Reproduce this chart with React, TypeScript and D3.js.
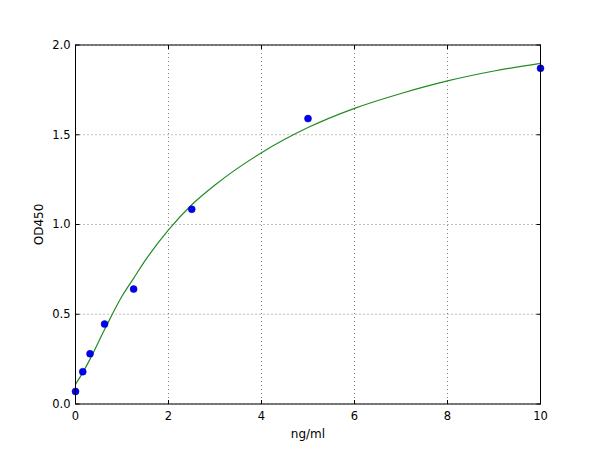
import * as d3 from "d3";

// measured standards (ng/ml vs OD450)
const concentrations = [0, 0.156, 0.3125, 0.625, 1.25, 2.5, 5, 10];
const odValues = [0.07, 0.18, 0.28, 0.445, 0.64, 1.085, 1.59, 1.87];

// fitted curve
const fitX = [0, 0.156, 0.3125, 0.625, 1, 1.25, 1.5, 2, 2.5, 3, 4, 5, 6, 7, 8, 9, 10];
const fitY = [0.11, 0.175, 0.25, 0.415, 0.6, 0.7, 0.8, 0.97, 1.11, 1.22, 1.4, 1.54, 1.647, 1.73, 1.8, 1.855, 1.898];

const xTicks = [0, 2, 4, 6, 8, 10];
const yTicks = [0, 0.5, 1.0, 1.5, 2.0];

const width = 600;
const height = 450;
const margin = { top: 45, right: 59.5, bottom: 46, left: 75.5 };

export default function App() {
  const innerW = width - margin.left - margin.right;
  const innerH = height - margin.top - margin.bottom;

  const x = d3.scaleLinear().domain([0, 10]).range([0, innerW]);
  const y = d3.scaleLinear().domain([0, 2]).range([innerH, 0]);

  const line = d3
    .line<number>()
    .x((d) => x(d))
    .y((_, i) => y(fitY[i]))
    .curve(d3.curveMonotoneX);

  const font = "DejaVu Sans, sans-serif";

  return (
    <svg
      width={width}
      height={height}
      style={{ position: "absolute", left: 0, top: 0, background: "#fff" }}
    >
      <rect width={width} height={height} fill="#fff" />
      <g transform={`translate(${margin.left},${margin.top})`}>
        {/* grid */}
        {xTicks.map((t) => (
          <line
            key={"gx" + t}
            x1={x(t)}
            x2={x(t)}
            y1={0}
            y2={innerH}
            stroke="#000"
            strokeWidth={0.5}
            strokeDasharray="1,3"
          />
        ))}
        {yTicks.map((t) => (
          <line
            key={"gy" + t}
            x1={0}
            x2={innerW}
            y1={y(t)}
            y2={y(t)}
            stroke="#000"
            strokeWidth={0.5}
            strokeDasharray="1,3"
          />
        ))}

        <path d={line(fitX) ?? ""} fill="none" stroke="#228b22" strokeWidth={1.2} />

        {concentrations.map((c, i) => (
          <circle key={"p" + i} cx={x(c)} cy={y(odValues[i])} r={3.5} fill="#0000ff" stroke="#00008b" strokeWidth={0.5} />
        ))}

        {/* ticks inside, all four sides */}
        {xTicks.map((t) => (
          <g key={"tx" + t}>
            <line x1={x(t)} x2={x(t)} y1={innerH} y2={innerH - 4} stroke="#000" />
            <line x1={x(t)} x2={x(t)} y1={0} y2={4} stroke="#000" />
            <text x={x(t)} y={innerH + 15.5} textAnchor="middle" fontSize={11.5} fontFamily={font}>
              {t}
            </text>
          </g>
        ))}
        {yTicks.map((t) => (
          <g key={"ty" + t}>
            <line x1={0} x2={4} y1={y(t)} y2={y(t)} stroke="#000" />
            <line x1={innerW} x2={innerW - 4} y1={y(t)} y2={y(t)} stroke="#000" />
            <text x={-5} y={y(t) + 3.8} textAnchor="end" fontSize={11.5} fontFamily={font}>
              {d3.format(".1f")(t)}
            </text>
          </g>
        ))}

        <rect width={innerW} height={innerH} fill="none" stroke="#000" strokeWidth={1} />

        <text x={innerW / 2} y={innerH + 33.5} textAnchor="middle" fontSize={12} fontFamily={font}>
          ng/ml
        </text>
        <text
          transform={`translate(${-33},${innerH / 2}) rotate(-90)`}
          textAnchor="middle"
          fontSize={12}
          fontFamily={font}
        >
          OD450
        </text>
      </g>
    </svg>
  );
}
